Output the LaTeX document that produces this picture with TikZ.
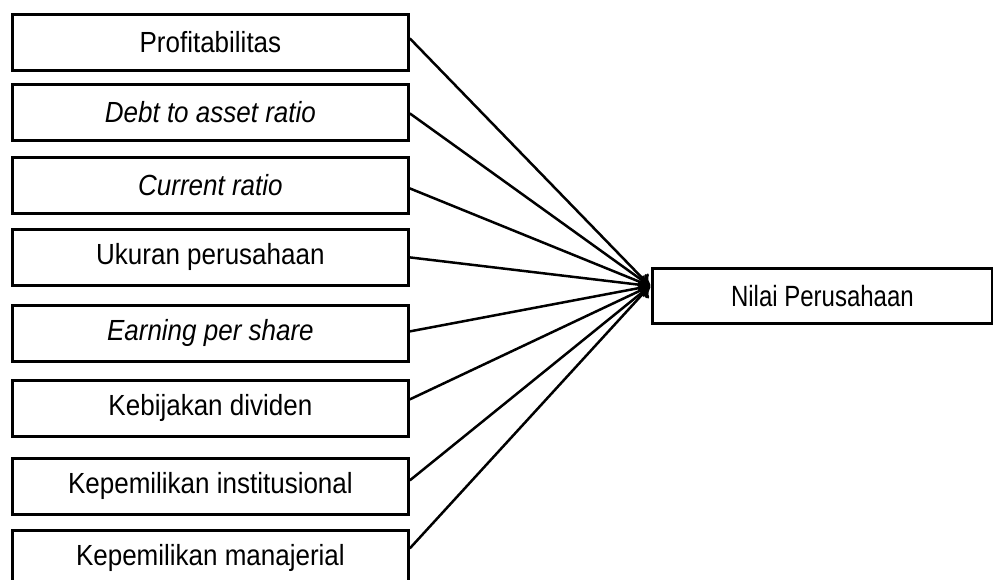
\documentclass[tikz,border=0pt]{standalone}
\usepackage{fontspec}
\setmainfont{Liberation Sans}
\usetikzlibrary{arrows.meta}
\begin{document}
\begin{tikzpicture}[x=1pt,y=-1pt,
  box/.style={draw, line width=2.8pt, minimum width=396pt, minimum height=56pt,
    inner sep=0pt, anchor=north west, font=\fontsize{26}{30}\selectfont},
  target/.style={draw, line width=2.8pt, minimum width=340pt, minimum height=55pt,
    inner sep=0pt, anchor=north west, font=\fontsize{24}{28}\selectfont},
  link/.style={line width=2.5pt, -{To[length=11pt,width=15pt]}}]
\useasboundingbox (0,0) rectangle (993,580);
\node[box] (b1) at (11,13)  {\scalebox{1}[1.12]{Profitabilitas}};
\node[box] (b2) at (11,83)  {\scalebox{1}[1.12]{\itshape Debt to asset ratio}};
\node[box] (b3) at (11,156) {\scalebox{1}[1.12]{\itshape Current ratio}};
\node[box] (b4) at (11,228) {\scalebox{1}[1.12]{Ukuran perusahaan}};
\node[box] (b5) at (11,304) {\scalebox{1}[1.12]{\itshape Earning per share}};
\node[box] (b6) at (11,379) {\scalebox{1}[1.12]{Kebijakan dividen}};
\node[box] (b7) at (11,457) {\scalebox{1}[1.12]{Kepemilikan institusional}};
\node[box] (b8) at (11,529) {\scalebox{1}[1.12]{Kepemilikan manajerial}};
\node[target] (t) at (651,267) {\scalebox{1}[1.22]{Nilai Perusahaan}};
\coordinate (tip) at (650,286);
\draw[link] ([yshift=4pt]b1.east) -- (tip);
\draw[link] ([yshift=-1pt]b2.east) -- (tip);
\draw[link] ([yshift=-3pt]b3.east) -- (tip);
\draw[link] (b4.east) -- (tip);
\draw[link] ([yshift=2pt]b5.east) -- (tip);
\draw[link] ([yshift=9pt]b6.east) -- (tip);
\draw[link] ([yshift=6pt]b7.east) -- (tip);
\draw[link] ([yshift=10pt]b8.east) -- (tip);
\end{tikzpicture}
\end{document}
